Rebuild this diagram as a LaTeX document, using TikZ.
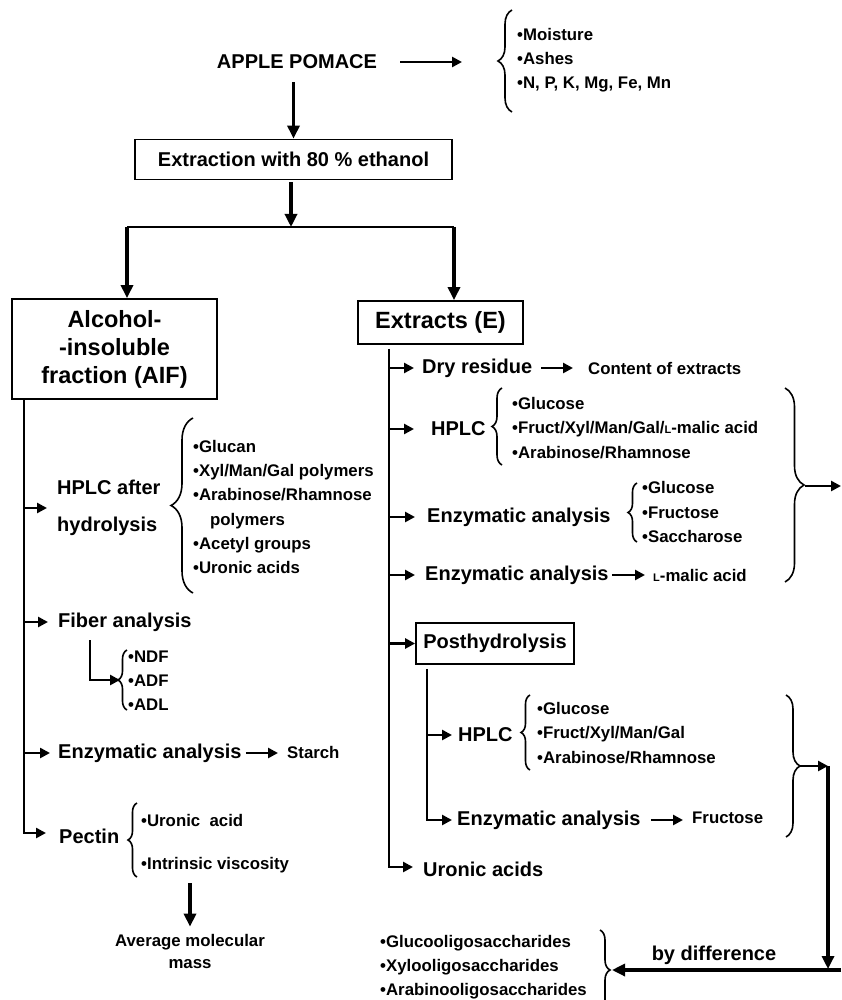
\documentclass[tikz,border=0pt]{standalone}
\usepackage{fontspec}
\setmainfont{Liberation Sans}
\usetikzlibrary{calc, arrows.meta, positioning, decorations.pathreplacing}

\tikzset{
    big/.style={font=\fontsize{23.5}{28}\selectfont\bfseries, align=center},
    med/.style={font=\fontsize{20}{24}\selectfont\bfseries, inner sep=0pt},
    sml/.style={font=\fontsize{16.8}{24.2}\selectfont\bfseries, inner sep=0pt, align=left},
    box/.style={draw, line width=1.8pt},
    arr/.style={line width=3.2pt, -{Triangle[length=13pt,width=12pt]}},
    sarr/.style={line width=2.8pt, -{Triangle[length=10pt,width=10pt]}},
    brc/.style={decorate, decoration={brace, amplitude=#1}, line width=1.6pt},
    brc/.default=10pt
}

\begin{document}
\begin{tikzpicture}[x=1pt, y=-1pt]
        \useasboundingbox (0,0) rectangle (841,1000);

        \node[med] (apple) at (297,62) {APPLE POMACE};
        \node[sml, anchor=west] (basic) at (517,60) {\textbullet Moisture\\\textbullet Ashes\\\textbullet N, P, K, Mg, Fe, Mn};
        \draw[brc=14pt] (512,112) -- (512,10);
        \coordinate (basictip) at (498,60);
        \draw[sarr, shorten <=23pt, shorten >=36pt] (apple.east) -- (apple.east -| basictip);

        \node[box, med, minimum width=317pt, minimum height=40pt] (extr) at (293.5,159.5) {Extraction with 80 \% ethanol};
        \draw[arr, shorten <=13pt] (apple.south -| extr.north) -- (extr.north);

        \coordinate (split) at (291,227);
        \coordinate (splitL) at (127,227);
        \coordinate (splitR) at (454,227);
        \node[box, big, minimum width=205pt, minimum height=100pt] (aif) at (114.5,349) {Alcohol-\\-insoluble\\fraction (AIF)};
        \node[box, big, minimum width=165pt, minimum height=43pt] (extracts) at (440.5,322.5) {Extracts (E)};
        \draw[arr, shorten <=2pt] (extr.south -| split) -- (split);
        \draw[line width=2.4pt] (splitL) -- (splitR);
        \draw[arr] (splitL) -- (splitL |- aif.north);
        \draw[arr] (splitR) -- (splitR |- extracts.north);

        \coordinate (abot) at (24,833);
        \node[med, anchor=west, align=left, font=\fontsize{20}{37}\selectfont\bfseries] (hplcA) at (57,508) {HPLC after\\hydrolysis};
        \draw[sarr, shorten >=10pt] (hplcA.west -| abot) -- (hplcA.west);
        \draw[brc=22pt] (193,593) -- (193,418);
        \node[sml, anchor=west] (hplcAitems) at (193,507) {\textbullet Glucan\\\textbullet Xyl/Man/Gal polymers\\\textbullet Arabinose/Rhamnose\\\hspace*{17pt}polymers\\\textbullet Acetyl groups\\\textbullet Uronic acids};

        \node[med, anchor=west] (fiber) at (58,622) {Fiber analysis};
        \draw[sarr, shorten >=10pt] (fiber.west -| abot) -- (fiber.west);
        \node[sml, anchor=west] (fibitems) at (128,681) {\textbullet NDF\\\textbullet ADF\\\textbullet ADL};
        \draw[brc=9pt] (127,710) -- (127,650);
        \coordinate (fibknee) at (90,640);
        \coordinate (fibtip) at (120,680);
        \draw[sarr] (fibknee) |- (fibtip);

        \node[med, anchor=west] (enzA) at (58,753) {Enzymatic analysis};
        \draw[sarr, shorten >=8pt] (enzA.west -| abot) -- (enzA.west);
        \node[sml, anchor=west] (starch) at (287,752) {Starch};
        \draw[sarr, shorten <=4pt, shorten >=9pt] (enzA.east) -- (enzA.east -| starch.west);

        \node[med, anchor=west] (pectin) at (59,836) {Pectin};
        \draw[sarr, shorten >=13pt] (aif.south -| abot) -- (abot) -- (abot -| pectin.west);
        \draw[brc=9pt] (137,877) -- (137,803);
        \node[sml, anchor=west] (uronA) at (141,820) {\textbullet Uronic\ \ acid};
        \node[sml, anchor=west] (visc) at (141,865) {\textbullet Intrinsic viscosity};
        \node[sml, align=center, font=\fontsize{16.8}{22}\selectfont\bfseries] (molmass) at (190,951) {Average molecular\\mass};
        \draw[arr, shorten <=10pt, shorten >=7pt] (visc.south -| molmass.north) -- (molmass.north);

        \coordinate (ebot) at (389,867);
        \node[med, anchor=west] (dry) at (422,368) {Dry residue};
        \draw[sarr, shorten >=8pt] (dry.west -| ebot) -- (dry.west);
        \node[sml, anchor=west] (content) at (588,368) {Content of extracts};
        \draw[sarr, shorten <=9pt, shorten >=15pt] (dry.east) -- (content.west);

        \node[med, anchor=west] (hplcE) at (431,429) {HPLC};
        \draw[sarr, shorten >=17pt] (hplcE.west -| ebot) -- (hplcE.west);
        \draw[brc=10pt] (502,465) -- (502,388);
        \node[sml, anchor=west] (hplcEitems) at (512,428) {\textbullet Glucose\\\textbullet Fruct/Xyl/Man/Gal/{\fontsize{11}{11}\selectfont L}-malic acid\\\textbullet Arabinose/Rhamnose};

        \node[med, anchor=west] (enzE) at (427,517) {Enzymatic analysis};
        \draw[sarr, shorten >=12pt] (enzE.west -| ebot) -- (enzE.west);
        \draw[brc=9pt] (637,542) -- (637,483);
        \node[sml, anchor=west] (enzEitems) at (642,512) {\textbullet Glucose\\\textbullet Fructose\\\textbullet Saccharose};

        \node[med, anchor=west] (enzM) at (425,575) {Enzymatic analysis};
        \draw[sarr, shorten >=10pt] (enzM.west -| ebot) -- (enzM.west);
        \node[sml, anchor=west] (malic) at (653,575) {{\fontsize{11}{11}\selectfont L}-malic acid};
        \draw[sarr, shorten <=3pt, shorten >=8pt] (enzM.east) -- (enzM.east -| malic.west);

        \draw[brc=19pt] (785,388) -- (785,582);
        \coordinate (etip) at (805,486);
        \coordinate (eout) at (841,486);
        \draw[sarr] (etip) -- (eout);

        \node[box, med, minimum width=158pt, minimum height=41pt] (post) at (495,643.5) {Posthydrolysis};
        \draw[sarr] (post.west -| ebot) -- (post.west);
        \coordinate (pbot) at (427,820);
        \node[med, anchor=west] (hplcP) at (458,735) {HPLC};
        \draw[sarr, shorten >=6pt] (hplcP.west -| pbot) -- (hplcP.west);
        \draw[brc=9pt] (530,770) -- (530,695);
        \node[sml, anchor=west] (hplcPitems) at (537,733) {\textbullet Glucose\\\textbullet Fruct/Xyl/Man/Gal\\\textbullet Arabinose/Rhamnose};
        \node[med, anchor=west] (enzP) at (457,820) {Enzymatic analysis};
        \draw[sarr, shorten <=4pt, shorten >=5pt] (post.south -| pbot) -- (pbot) -- (pbot -| enzP.west);
        \node[sml, anchor=west] (fruc) at (692,818) {Fructose};
        \draw[sarr, shorten <=10pt, shorten >=9pt] (enzP.east) -- (enzP.east -| fruc.west);

        \draw[brc=14pt] (786,695) -- (786,837);
        \coordinate (ptip) at (800,766);
        \coordinate (pcorner) at (828,766);
        \coordinate (dcorner) at (828,970);
        \draw[sarr] (ptip) -- (pcorner);
        \draw[arr, shorten >=1pt] (pcorner) -- (dcorner);

        \coordinate (bright) at (841,970);
        \coordinate (btip) at (612,970);
        \draw[arr] (bright) -- (btip);
        \node[med] (diff) at (714,955) {by difference};
        \draw[brc=10pt] (600,930) -- (600,1010);
        \node[sml, anchor=west] (oligo) at (380,967) {\textbullet Glucooligosaccharides\\\textbullet Xylooligosaccharides\\\textbullet Arabinooligosaccharides};

        \node[med, anchor=west] (uronE) at (423,869) {Uronic acids};
        \draw[sarr, shorten <=4pt, shorten >=10pt] (extracts.south -| ebot) -- (ebot) -- (ebot -| uronE.west);
    \end{tikzpicture}
\end{document}
